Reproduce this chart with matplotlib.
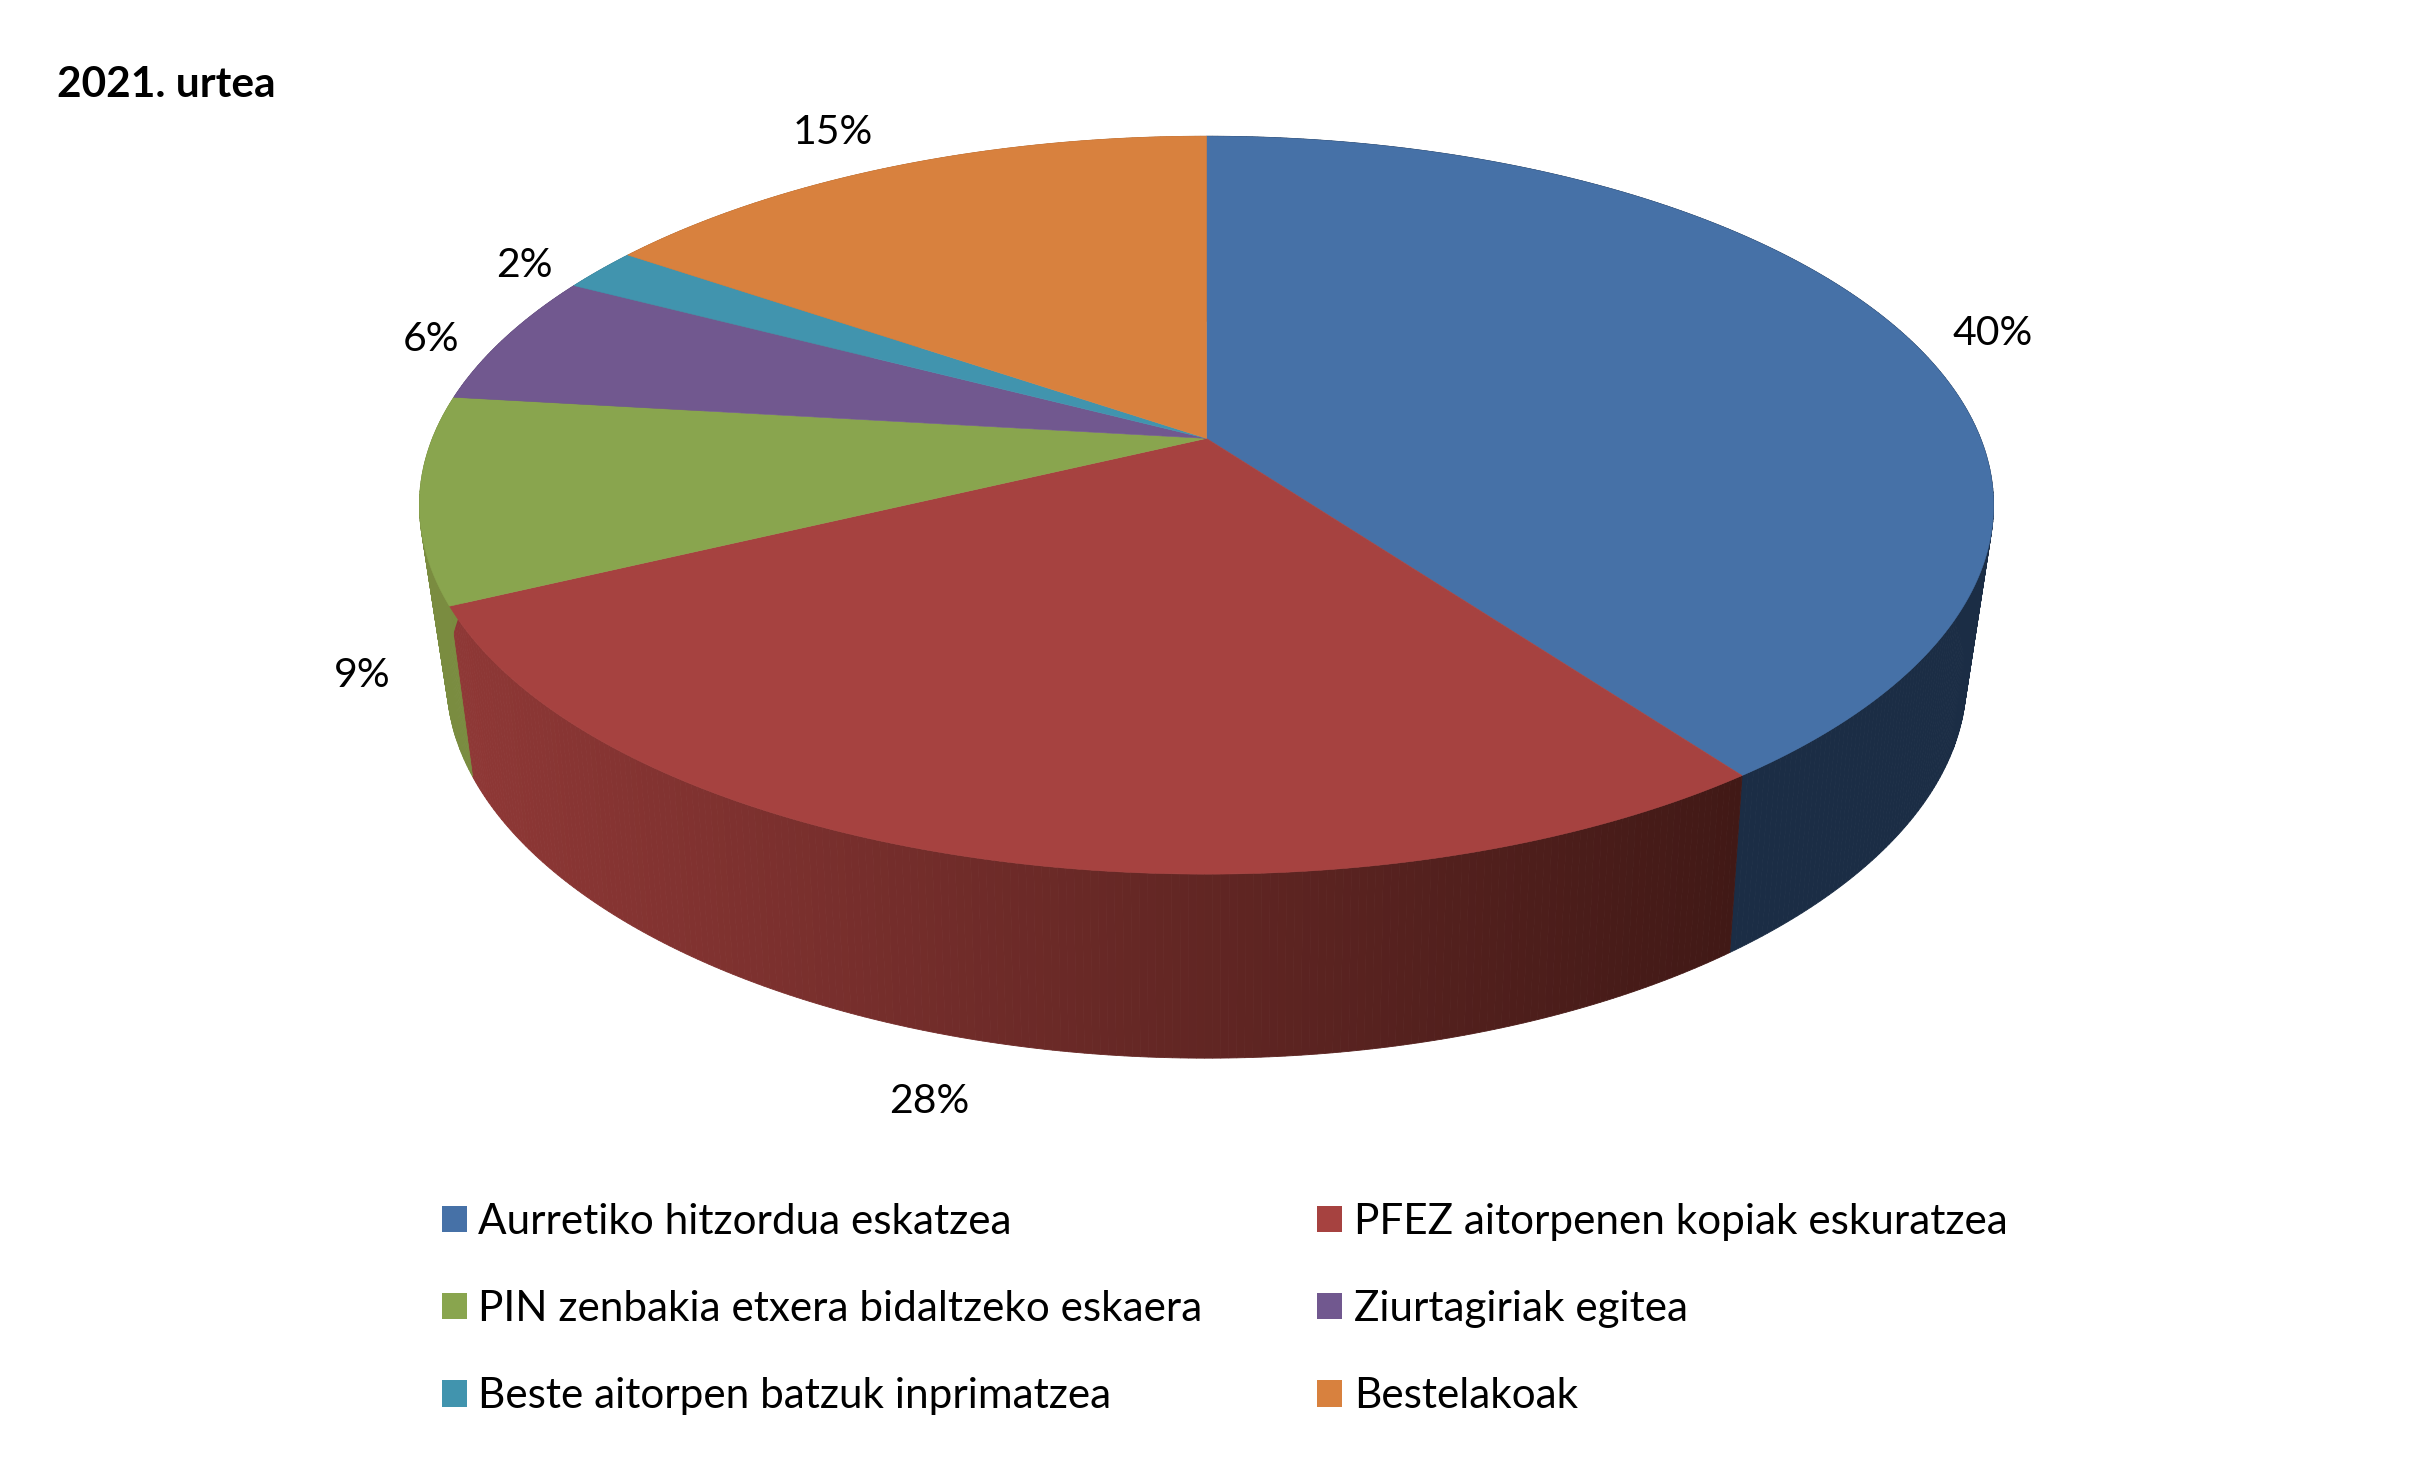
#!/usr/bin/env python3
# -*- coding: utf-8 -*-

import numpy as np
import matplotlib
matplotlib.use("Agg")
import matplotlib.pyplot as plt
from matplotlib.patches import Polygon, Patch

plt.rcParams['font.family'] = ['Lato', 'DejaVu Sans']

title = '2021. urtea'
categories = ['Aurretiko hitzordua eskatzea',
              'PFEZ aitorpenen kopiak eskuratzea',
              'PIN zenbakia etxera bidaltzeko eskaera',
              'Ziurtagiriak egitea',
              'Beste aitorpen batzuk inprimatzea',
              'Bestelakoak']
values = [39.9, 27.9, 9.0, 5.8, 1.9, 15.4]

colors = ['#4671a7', '#a64240', '#89a54e', '#71588f', '#4194ae', '#d8813e']
side_colors = ['#1b2d45', None, '#7a8c40', '#5a4672', '#33768b', '#ac6731']
red_side_left = np.array([143, 56, 54]) / 255.
red_side_right = np.array([65, 25, 22]) / 255.

# label offset from the rim point in the middle of each slice
label_offsets = [(58, 0), (-32, 158), (-37, 115), (-48, 1), (-49, -3), (-41, -22)]

# perspective of the pie, in the units of the 1568x955 view
cx, cy = 784., 285.
top_r, top_a, top_k = 503.0, 232.0, 0.181
bot_r, bot_kx = 484., 0.197
bot_a, bot_k, bot_d = 228., 0.22, 110.6


def project_top(t):
    x, y = np.sin(t), -np.cos(t)
    w = 1 - top_k * y
    return cx + top_r * x / w, cy + top_a * y / w


def project_bottom(t):
    x, y = np.sin(t), -np.cos(t)
    return cx + bot_r * x / (1 - bot_kx * y), cy + bot_d + bot_a * y / (1 - bot_k * y)


fig = plt.figure(figsize=(24.13, 14.69), dpi=100)
ax = fig.add_axes([0, 0, 1, 1])
ax.set_xlim(0, 1568)
ax.set_ylim(955, 0)
ax.axis('off')

fractions = np.array(values) / np.sum(values)
edges = np.concatenate([[0], np.cumsum(fractions)]) * 2 * np.pi

# side wall first, in thin strips
for i in range(len(values)):
    ts = np.linspace(edges[i], edges[i + 1], int(fractions[i] * 720) + 2)
    for t0, t1 in zip(ts[:-1], ts[1:]):
        xt0, yt0 = project_top(t0)
        xt1, yt1 = project_top(t1)
        xb0, yb0 = project_bottom(t0)
        xb1, yb1 = project_bottom(t1)
        if side_colors[i] is None:
            f = np.clip(((xb0 + xb1) / 2 - 304.) / (1123. - 304.), 0, 1)
            c = tuple(red_side_left + f * (red_side_right - red_side_left))
        else:
            c = side_colors[i]
        ax.add_patch(Polygon([(xt0, yt0), (xt1, yt1), (xb1, yb1), (xb0, yb0)],
                             facecolor=c, edgecolor=c, lw=0.6, zorder=2))

# then the top face
for i in range(len(values)):
    ts = np.linspace(edges[i], edges[i + 1], int(fractions[i] * 720) + 2)
    xs, ys = project_top(ts)
    pts = [(cx, cy)] + list(zip(xs, ys))
    ax.add_patch(Polygon(pts, closed=True, facecolor=colors[i],
                         edgecolor=colors[i], lw=0.4, zorder=3))

    xm, ym = project_top((edges[i] + edges[i + 1]) / 2)
    dx, dy = label_offsets[i]
    ax.text(xm + dx, ym + dy, '{:.0f}%'.format(values[i]), fontsize=29.5,
            ha='center', va='center', color='black', zorder=4)

ax.text(37, 55, title, fontsize=30.5, fontweight='bold', ha='left', va='center')

# legend reads row by row, matplotlib fills it column by column
order = [0, 2, 4, 1, 3, 5]
handles = [Patch(facecolor=colors[i], edgecolor='none') for i in order]
labels = [categories[i] for i in order]
ax.legend(handles, labels, ncol=2, frameon=False, fontsize=30.45,
          loc='upper left', bbox_to_anchor=(287 / 1568., 1 - 782 / 955.),
          handlelength=0.6, handleheight=0.6, handletextpad=0.27,
          labelspacing=1.16, columnspacing=2.7, borderpad=0, borderaxespad=0)

plt.savefig('out.png', dpi=100)
plt.close()
